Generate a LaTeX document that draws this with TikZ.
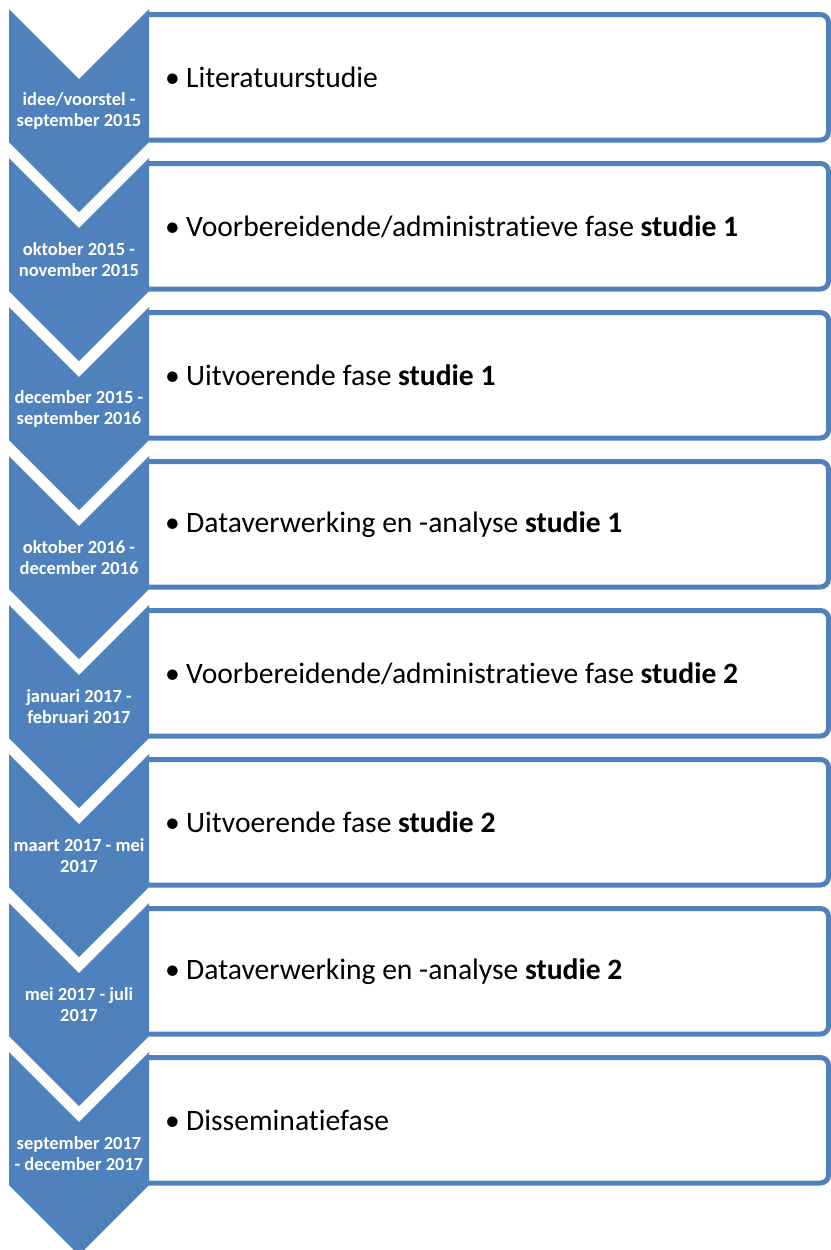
\documentclass[tikz,border=0pt]{standalone}
\usepackage{fontspec}
\setmainfont{Carlito}[Ligatures=NoCommon]
\definecolor{accent}{HTML}{4F81BD}
\begin{document}
\begin{tikzpicture}[x=1pt,y=-1pt,
  chev/.style={fill=accent, draw=none},
  boxframe/.style={draw=accent, line width=5pt, fill=white, rounded corners=8pt},
  datelbl/.style={text=white, font=\fontsize{18.5}{21}\selectfont\bfseries, align=center, inner sep=0pt},
  itemlbl/.style={font=\fontsize{29.6}{34}\selectfont, anchor=west, inner sep=0pt}]
\useasboundingbox (0,0) rectangle (830,1250);
\foreach \i in {0,...,7}{
  \pgfmathsetmacro\T{14.5+149*\i}
  \pgfmathsetmacro\B{140+149*\i}
  \filldraw[boxframe] (149,\T) -- (828.5,\T) -- (828.5,\B) -- (149,\B);
}
\foreach \i in {0,...,7}{
  \pgfmathsetmacro\t{9+149*\i}
  \fill[chev] (9,\t) -- (79,\t+70) -- (149,\t) -- (149,\t+133) -- (79,\t+203) -- (9,\t+133) -- cycle;
}
\newcommand\bul{\makebox[21pt][l]{•}}
\node[datelbl] (d0) at (79,111) {idee/voorstel -\\september 2015};
\node[datelbl] (d1) at (79,260) {oktober 2015 -\\november 2015};
\node[datelbl] (d2) at (79,409) {december 2015 -\\september 2016};
\node[datelbl] (d3) at (79,558) {oktober 2016 -\\december 2016};
\node[datelbl] (d4) at (79,707) {januari 2017 -\\februari 2017};
\node[datelbl] (d5) at (79,856) {maart 2017 - mei\\2017};
\node[datelbl] (d6) at (79,1005) {mei 2017 - juli\\2017};
\node[datelbl] (d7) at (79,1154) {september 2017\\- december 2017};
\node[itemlbl] (t0) at (165,77.5) {\bul Literatuurstudie};
\node[itemlbl] (t1) at (165,226.5) {\bul Voorbereidende/administratieve fase \textbf{studie 1}};
\node[itemlbl] (t2) at (165,375.5) {\bul Uitvoerende fase \textbf{studie 1}};
\node[itemlbl] (t3) at (165,524.5) {\bul Dataverwerking en -analyse \textbf{studie 1}};
\node[itemlbl] (t4) at (165,673.5) {\bul Voorbereidende/administratieve fase \textbf{studie 2}};
\node[itemlbl] (t5) at (165,822.5) {\bul Uitvoerende fase \textbf{studie 2}};
\node[itemlbl] (t6) at (165,971.5) {\bul Dataverwerking en -analyse \textbf{studie 2}};
\node[itemlbl] (t7) at (165,1120.5) {\bul Disseminatiefase};
\end{tikzpicture}
\end{document}
